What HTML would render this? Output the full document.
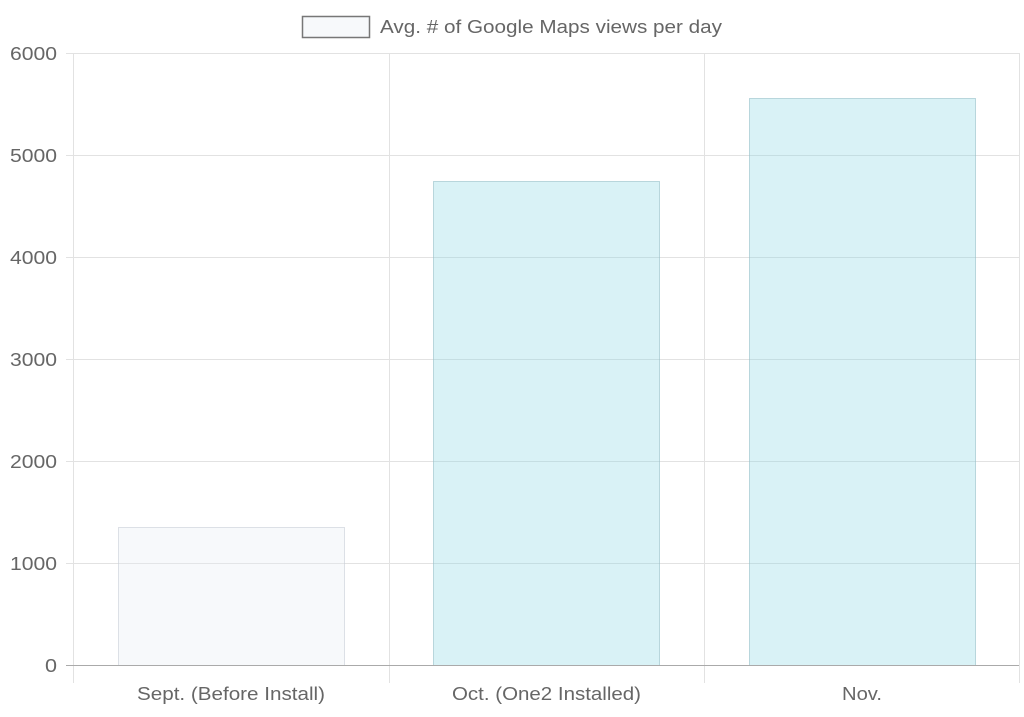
<!DOCTYPE html>
<html><head><style>body{margin:0;background:#fff}svg{display:block}text{font-family:"Liberation Sans",sans-serif;fill:#666;font-size:18px}</style></head><body>
<svg width="1024" height="717" viewBox="0 0 1024 717">
<g stroke="#e2e2e2" stroke-width="1">
<line x1="66" y1="53.5" x2="1019" y2="53.5"/>
<line x1="66" y1="155.5" x2="1019" y2="155.5"/>
<line x1="66" y1="257.5" x2="1019" y2="257.5"/>
<line x1="66" y1="359.5" x2="1019" y2="359.5"/>
<line x1="66" y1="461.5" x2="1019" y2="461.5"/>
<line x1="66" y1="563.5" x2="1019" y2="563.5"/>
<line x1="73.5" y1="53" x2="73.5" y2="683"/>
<line x1="389.5" y1="53" x2="389.5" y2="683"/>
<line x1="704.5" y1="53" x2="704.5" y2="683"/>
<line x1="1019.5" y1="53" x2="1019.5" y2="683"/>
</g>
<rect x="118.5" y="527.5" width="226" height="138" fill="rgba(230,234,242,0.3)" stroke="rgba(200,205,215,0.6)"/>
<rect x="433.5" y="181.5" width="226" height="484" fill="rgba(140,215,228,0.33)" stroke="rgba(150,190,200,0.6)"/>
<rect x="749.5" y="98.5" width="226" height="567" fill="rgba(140,215,228,0.33)" stroke="rgba(150,190,200,0.6)"/>
<line x1="66" y1="665.5" x2="1019" y2="665.5" stroke="#aaa"/>
<g>
<text x="10" y="60" textLength="47" lengthAdjust="spacingAndGlyphs">6000</text>
<text x="10" y="162" textLength="47" lengthAdjust="spacingAndGlyphs">5000</text>
<text x="10" y="264" textLength="47" lengthAdjust="spacingAndGlyphs">4000</text>
<text x="10" y="366" textLength="47" lengthAdjust="spacingAndGlyphs">3000</text>
<text x="10" y="468" textLength="47" lengthAdjust="spacingAndGlyphs">2000</text>
<text x="10" y="570" textLength="47" lengthAdjust="spacingAndGlyphs">1000</text>
<text x="45" y="672" textLength="12" lengthAdjust="spacingAndGlyphs">0</text>
</g>
<text x="137" y="700" textLength="188" lengthAdjust="spacingAndGlyphs">Sept. (Before Install)</text>
<text x="452" y="700" textLength="189" lengthAdjust="spacingAndGlyphs">Oct. (One2 Installed)</text>
<text x="842" y="700" textLength="40" lengthAdjust="spacingAndGlyphs">Nov.</text>
<rect x="302.5" y="16.5" width="67" height="21" fill="#f7f9fb" stroke="#777" stroke-width="1.5"/>
<text x="380" y="33" textLength="342" lengthAdjust="spacingAndGlyphs">Avg. # of Google Maps views per day</text>
</svg>
</body></html>
